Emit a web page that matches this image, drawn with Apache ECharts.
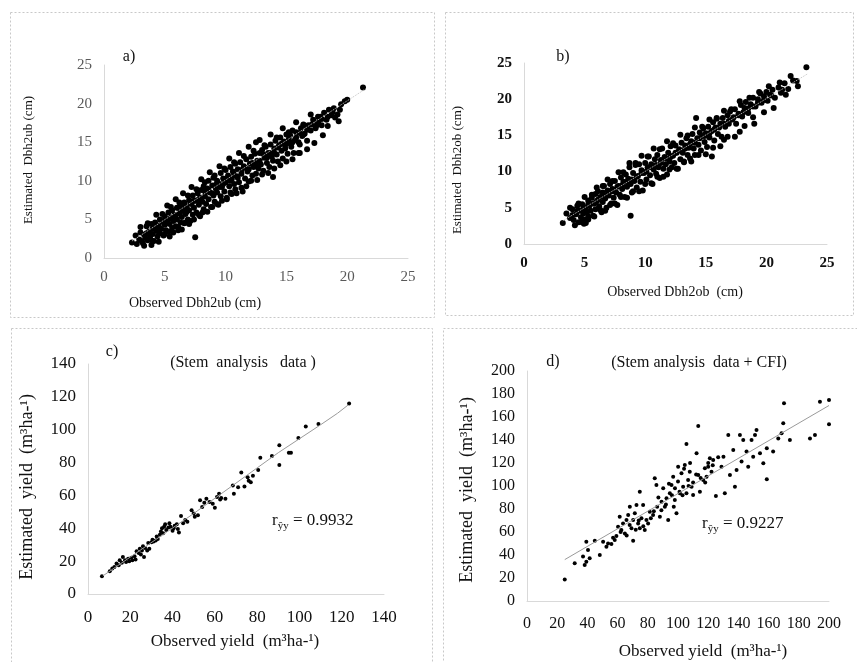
<!DOCTYPE html>
<html><head><meta charset="utf-8">
<script src="https://cdn.jsdelivr.net/npm/echarts@6/dist/echarts.min.js"></script>
<style>html,body{margin:0;padding:0;background:#fff}#c{width:857px;height:662px}</style>
</head><body><div id="c"></div>
<script>
// ---- data ----
const ticksDbh = [0, 5, 10, 15, 20, 25];
const ticksC = [0, 20, 40, 60, 80, 100, 120, 140];
const ticksD = [0, 20, 40, 60, 80, 100, 120, 140, 160, 180, 200];

const aPoints = [
[2.3,2.0],[2.6,2.9],[2.7,1.8],[2.9,2.4],[3.0,3.3],[3.1,2.2],[3.2,1.9],[3.3,3.0],[3.4,2.6],[3.5,4.1],[3.6,2.3],[3.7,3.4],[3.8,2.8],[3.9,4.4],[3.9,1.7],[4.0,3.1],[4.1,3.9],[4.1,2.2],[4.2,4.6],[4.3,3.5],[4.4,2.8],[4.5,4.2],[4.6,5.0],[4.6,3.2],[4.7,3.8],[4.8,4.7],[4.9,2.9],[5.0,4.3],[5.0,5.4],[5.1,3.6],
[5.2,4.9],[5.3,3.4],[5.3,5.9],[5.4,4.4],[5.5,5.2],[5.6,3.9],[5.6,6.2],[5.7,4.8],[5.8,5.6],[5.9,4.1],[6.0,6.5],[6.0,5.0],[6.1,3.6],[6.2,5.8],[6.3,4.6],[6.3,6.9],[6.4,5.3],[6.5,6.1],[6.6,4.5],[6.6,7.2],[6.7,5.7],[6.8,6.6],[6.9,5.0],[7.0,7.5],[7.0,6.2],[7.1,4.8],[7.2,7.0],[7.3,5.6],[7.3,8.1],[7.4,6.5],[7.5,7.4],[7.5,2.7],[7.6,5.9],[7.7,8.4],[7.8,6.9],[7.9,7.8],[7.9,5.4],
[8.0,8.8],[8.1,7.3],[8.2,6.3],[8.2,9.3],[8.3,8.0],[8.4,7.0],[8.5,9.0],[8.6,7.6],[8.6,10.0],[8.7,8.5],[8.8,6.6],[8.9,9.4],[9.0,8.1],[9.0,10.4],[9.1,7.3],[9.2,9.0],[9.3,10.0],[9.3,8.5],[9.4,6.9],[9.5,9.6],[9.6,8.0],[9.6,11.0],[9.7,9.2],[9.8,10.3],[9.9,8.6],[10.0,9.8],[10.0,11.4],[10.1,7.8],[10.2,10.7],[10.3,9.3],[10.4,11.8],[10.4,8.5],[10.5,10.2],[10.6,11.2],[10.7,9.6],[10.8,12.2],[10.8,8.9],[10.9,10.6],
[11.0,11.5],[11.1,9.8],[11.2,12.4],[11.3,10.9],[11.4,8.6],[11.5,11.9],[11.6,10.3],[11.7,12.8],[11.8,11.2],[11.9,9.9],[12.0,12.2],[12.1,13.1],[12.2,10.7],[12.3,11.8],[12.4,13.5],[12.5,15.0],[12.5,10.9],[12.6,12.6],[12.7,11.6],[12.8,13.6],[12.9,12.1],[13.0,14.0],[13.1,11.3],[13.2,13.0],[13.3,14.4],[13.4,12.3],[13.5,13.6],[13.6,11.8],[13.7,14.7],[13.8,13.1],[13.9,10.5],[13.9,12.6],[14.0,14.2],
[14.1,15.2],[14.2,13.4],[14.3,12.5],[14.4,14.6],[14.5,15.6],[14.6,13.9],[14.7,12.9],[14.8,15.1],[14.9,14.2],[15.0,16.0],[15.1,13.5],[15.2,14.9],[15.3,15.9],[15.4,14.4],[15.5,16.5],[15.6,13.6],[15.7,15.3],[15.8,16.3],[16.0,13.6],[16.0,15.0],[16.1,14.7],[16.2,16.8],[16.3,15.8],[16.4,17.3],[16.5,16.1],[16.7,15.2],[16.8,17.2],[17.0,16.5],[17.2,17.9],
[17.4,16.8],[17.6,17.6],[17.8,18.3],[17.9,17.2],[18.1,18.8],[18.3,17.9],[18.4,17.1],[18.5,19.2],[18.7,18.5],[18.9,19.4],[19.0,18.2],[19.2,18.6],[19.3,17.7],[19.5,19.9],[19.8,20.3],[20.0,20.5],[21.3,22.1],
[3.0,4.0],[3.6,4.5],[4.3,5.6],[4.8,5.7],[5.2,6.8],[5.5,6.6],[5.9,7.6],[6.2,7.2],[6.5,8.4],[6.9,8.1],[7.2,9.2],[7.6,8.9],[8.0,10.2],[8.3,9.8],[8.7,11.1],[9.1,10.7],[9.5,11.9],[9.9,11.6],[10.3,12.9],[10.7,12.4],[11.1,13.6],[11.5,13.2],[11.9,14.4],[12.3,13.9],[12.8,15.3],[13.2,14.6],[13.7,16.0],[14.2,15.6],[14.7,16.8],[15.2,16.3],[15.8,17.6],[16.4,17.2],[17.0,18.6],[17.6,18.3],
[3.3,1.6],[4.0,2.2],[4.5,2.1],[5.0,3.1],[5.4,2.8],[5.7,3.3],[6.1,4.0],[6.4,3.7],[6.7,4.6],[7.0,4.4],[7.4,5.0],[7.8,5.6],[8.1,5.9],[8.5,6.0],[8.9,6.6],[9.3,7.0],[9.7,7.4],[10.1,7.6],[10.5,8.3],[10.9,8.4],[11.3,9.1],[11.7,9.3],[12.1,10.0],[12.6,10.1],[13.0,10.8],[13.5,11.0],[14.0,11.6],[14.5,12.0],[15.0,12.5],[15.5,12.8],[16.1,13.6],[16.7,14.1],[17.3,14.9],[18.0,15.9],
[3.5,3.2],[4.0,3.8],[4.4,4.0],[4.9,4.8],[5.2,5.0],[5.6,5.1],[5.9,5.5],[6.2,6.3],[6.5,6.6],[6.8,6.0],[7.1,7.1],[7.4,7.4],[7.7,7.5],[8.0,7.8],[8.3,8.6],[8.6,8.8],[8.9,8.4],[9.2,9.5],[9.5,9.2],[9.8,9.6],[10.1,10.3],[10.4,10.0],[10.7,10.8],[11.0,10.4],[11.3,11.4],[11.6,11.7],[11.9,11.5],[12.2,12.3],[12.5,12.0],[12.8,12.6],[13.1,13.4],[13.4,13.0],[13.7,13.6],[14.0,13.6],[14.3,14.3],[14.6,14.8],[14.9,14.6],[15.2,15.4],[15.5,15.0],[15.8,15.6],[16.1,16.2],[16.4,16.0],[16.7,16.6],[17.1,17.3],[17.5,17.2],[17.9,18.0],[18.4,18.3],[18.8,18.9],[19.4,19.2]
];
const aFit = [[2.3,2.2],[21.5,21.9]];

const bPoints = [
[3.2,2.9],[3.5,4.2],[3.8,3.6],[4.0,4.8],[4.1,3.3],[4.3,4.1],[4.4,5.3],[4.5,3.0],[4.6,4.6],[4.7,3.7],[4.8,5.5],[4.9,4.2],[4.95,2.8],[5.0,3.4],[5.1,5.0],[5.1,2.9],[5.2,4.4],[5.3,6.0],[5.3,3.8],[5.4,5.3],
[5.5,4.6],[5.6,6.4],[5.7,3.9],[5.8,5.6],[5.9,6.9],[5.9,4.8],[6.0,5.9],[6.1,7.3],[6.2,5.2],[6.3,6.5],[6.4,4.4],[6.5,7.1],[6.5,5.8],[6.6,8.0],[6.7,6.3],[6.8,5.0],[6.9,7.4],[7.0,6.7],[7.1,8.3],[7.2,5.6],[7.3,7.6],[7.4,6.4],[7.5,8.7],[7.6,7.1],[7.7,5.4],[7.8,8.0],[7.9,6.8],[8.0,9.2],
[8.1,7.6],[8.2,8.6],[8.3,6.5],[8.4,9.6],[8.5,7.9],[8.6,9.0],[8.7,10.6],[8.8,3.9],[8.8,8.3],[8.9,7.1],[9.0,9.8],[9.1,8.7],[9.2,10.9],[9.3,7.8],[9.4,9.4],[9.5,11.0],[9.6,8.6],[9.7,10.2],[9.8,7.4],[9.9,9.8],[10.0,11.2],[10.1,8.9],[10.2,10.6],[10.3,12.1],[10.4,9.5],[10.5,11.0],[10.6,8.3],[10.7,10.3],[10.8,11.7],[10.9,9.7],
[11.0,12.3],[11.1,10.6],[11.2,9.1],[11.3,11.6],[11.4,13.2],[11.5,10.4],[11.6,12.0],[11.7,11.0],[11.8,9.6],[11.9,12.6],[12.0,11.4],[12.1,13.5],[12.2,10.6],[12.3,12.2],[12.4,11.2],[12.5,13.6],[12.6,12.6],[12.7,10.4],[12.8,13.1],[12.9,11.7],[13.0,14.0],[13.1,12.6],[13.2,11.4],[13.3,13.6],[13.4,14.6],[13.5,12.3],[13.6,13.3],[13.7,11.8],[13.8,14.2],[13.9,15.2],
[14.0,13.2],[14.1,12.3],[14.2,17.4],[14.3,14.6],[14.4,13.7],[14.5,15.4],[14.6,12.9],[14.7,14.9],[14.8,16.0],[14.9,14.1],[15.0,15.3],[15.1,13.4],[15.2,16.2],[15.3,14.7],[15.5,12.1],[15.5,15.6],[15.6,16.8],[15.7,14.3],[15.8,16.1],[15.9,17.3],[16.0,15.2],[16.2,16.6],[16.3,14.8],[16.4,17.4],[16.5,14.4],[16.6,16.2],[16.8,17.8],[16.9,16.6],[17.0,18.3],
[17.2,17.2],[17.4,18.6],[17.5,16.6],[17.7,18.0],[17.8,15.5],[17.9,19.2],[18.0,17.6],[18.2,18.8],[18.3,19.6],[18.5,18.1],[18.7,19.3],[18.9,17.5],[18.9,20.2],[19.1,19.0],[19.3,20.0],[19.5,20.8],[19.6,19.5],[19.8,20.4],[20.0,21.0],[20.1,19.8],[20.3,20.6],[20.5,21.3],[20.7,20.2],[21.0,21.6],[21.2,20.9],[21.5,22.2],[21.8,21.4],[22.2,22.6],[23.3,24.4],
[3.8,5.0],[4.5,5.6],[5.0,6.5],[5.6,6.8],[6.0,7.8],[6.5,8.0],[6.9,8.9],[7.3,8.7],[7.8,9.9],[8.2,9.9],[8.7,11.2],[9.2,11.2],[9.7,12.2],[10.2,12.1],[10.7,13.2],[11.2,13.1],[11.8,14.2],[12.3,13.9],[12.9,15.1],[13.5,15.0],[14.1,16.1],[14.7,16.2],[15.3,17.2],[15.9,17.4],[16.5,18.4],[17.1,18.6],[17.8,19.7],[18.6,20.2],[19.4,21.0],[20.2,21.8],[21.1,22.3],[22.0,23.2],
[4.2,2.6],[4.8,3.0],[5.3,3.4],[5.8,3.8],[6.3,4.7],[6.7,4.6],[7.1,5.4],[7.5,5.6],[8.0,6.5],[8.5,6.4],[9.0,7.3],[9.5,7.3],[10.0,8.3],[10.5,8.4],[11.0,9.3],[11.5,9.3],[12.0,10.3],[12.6,10.4],[13.2,11.3],[13.8,11.4],[14.4,12.3],[15.0,12.4],[15.6,13.3],[16.2,13.5],[16.8,14.8],[17.4,14.8],[18.2,16.3],[19.0,16.6],[19.8,18.2],[20.6,18.8],[21.6,20.6],[22.6,21.8],
[4.0,4.0],[4.4,4.6],[4.9,4.9],[5.3,5.5],[5.7,5.6],[6.1,6.1],[6.5,6.6],[6.9,6.8],[7.3,7.3],[7.7,7.9],[8.1,8.1],[8.5,8.6],[8.9,8.9],[9.3,9.3],[9.7,9.8],[10.1,10.0],[10.5,10.6],[10.9,10.9],[11.3,11.2],[11.7,11.8],[12.1,12.0],[12.5,12.6],[12.9,12.9],[13.3,13.2],[13.7,13.8],[14.1,14.0],[14.5,14.6],[14.9,14.9],[15.3,15.3],[15.7,15.8],[16.1,16.1],[16.5,16.6],[16.9,17.0],[17.3,17.5],[17.7,17.8],[18.1,18.2],[18.5,18.7],[18.9,19.0],[19.3,19.5],[19.8,19.9],[20.4,20.5],[21.3,21.3],[22.5,22.5]
];
const bFit = [[3.2,3.2],[23.4,23.5]];

const cPoints = [
[6.6,10.8],[10.3,13.8],[11.5,15.5],[12.5,16.5],[13.5,18.5],[14.5,17.5],[15,20.5],[16,19],[16.5,22.5],[17.5,20.5],[18,19.5],[19,21.5],[19.5,20],[20.5,22],[21,20.5],[22,23],[22.5,21],[23,26],[24,25],[24.5,27.5],[25,24],[25.5,26.5],[26,29],[26.5,22.5],[27,28],[28,26.5],[28.5,31],[29,27.5],[30,31.5],[30.5,33],[31,32],[32,32.5],[32.5,35],[33,33.5],[34,36],[34.5,38],[35,40],[35.5,37],[36,41],[36.5,42.5],[37,39],[38,40.5],[38.5,43],[39,41],[40,38.5],[40.5,40],[41,41.5],[42,42.5],[42.5,39.5],[43,37.5],[44,47.5],[45,43],[46,45],[47,44],[49,51],[50,49],[50.5,47],[52,48],[53,57],[54,53],[55,55.5],[56,58],[57.5,56],[59,55],[60,52.5],[61,59],[62,61],[62.5,57.5],[63,58.5],[65,58],[68.5,66],[69,61],[71,65],[72.5,74],[74,65.5],[75.5,71],[76,69],[77,68],[78,72],[80.5,75.5],[81.5,83],[87,84],[90.5,78.5],[90.5,90.5],[95,86],[96,86],[99.5,95],[103,102],[109,103.5],[123.5,116]
];
const cFit = [[7,11],[50,49],[90,86],[110,103],[118,110],[123,115]];

const dPoints = [
[25,18.8],[31.6,32.8],[37.1,38.6],[38.2,31.3],[39.3,34.2],[40.4,44.3],[39.3,51.6],[41.5,37.1],[44.9,52.5],[48.2,40],[50.4,51.6],[52.6,47.2],[53.7,50.1],[55.9,49.6],[57,55],[58.1,53],[59.2,56.5],[60.3,64.6],[61.4,73.3],[62,60],[62.5,61.7],[63.6,67.5],[64.8,58.8],[65.9,70.4],[66,57],[67,74.8],[68,66],[68.1,82],[69.2,63.2],[70.3,52.5],[70.3,70.4],[71.4,76.2],[72,62],[72.5,83.5],[73.6,67.5],[74,70],[74.7,95],[74.7,63.2],[75.8,71.9],[76.9,83.5],[77,65],[78,61.7],[79.1,70.4],[80.2,67.5],[81.3,77.7],[82,72],[83.5,74.8],[84,78],[84.6,106.7],[85.7,100.9],[86.2,82],[87,90],[88,73.3],[89,79],[89.1,86.4],[90.2,98],[91.3,82],[92,84],[92.4,89.3],[93.5,70.4],[94,102],[94.6,93.6],[95.7,100.9],[96,92],[96.8,108.1],[97.2,82],[97.9,87.8],[98,98],[99,76.2],[100,104],[100.1,116.8],[101,95],[101.2,93.6],[102.3,111],[103,92],[103.4,99.4],[104,115],[104.5,118.3],[105.6,93.6],[105.6,136.5],[106.7,105.2],[107,100],[107.8,112.5],[108,120],[109,99.4],[110,92.2],[110,103],[112,110],[112.3,128.4],[113.4,152.2],[113.4,109.6],[114.5,95.1],[115,107],[116.7,105.2],[117.8,115.4],[118,103],[118.9,108.1],[120,116.8],[120,120],[121.1,124.1],[122.2,112.5],[123,118],[123.3,122.6],[125.1,91.3],[126.6,124.9],[128.8,116.8],[130.1,125.5],[131,93.6],[133.3,144.3],[134.4,109.6],[136.6,131.3],[137.7,99.4],[138.8,113.9],[141,144.3],[142.1,121.2],[143.2,140],[145.4,129.9],[146.5,116.8],[148.7,140],[149.8,125.5],[151,144.3],[152,148.7],[154.3,128.4],[156.5,119.7],[158.8,105.8],[158.8,132.8],[163,129.9],[166.4,141.4],[168.6,145.8],[169.7,154.5],[170.2,171.9],[174.1,140],[187.4,141.4],[190.7,144.3],[194,173.3],[200,174.8],[200,153.6]
];
const dFit = [[25,36],[200,170]];

// ---- chart ----
const serif = '"Liberation Serif","Times New Roman",serif';
const chart = echarts.init(document.getElementById('c'), null, {renderer: 'canvas'});

const grids = [
  {left: 104, top: 65, width: 304, height: 193},
  {left: 524, top: 63, width: 303, height: 181},
  {left: 88, top: 364, width: 296, height: 230},
  {left: 527, top: 371, width: 302, height: 230}
];
function axis(i, max, interval, labelStyle) {
  return {
    type: 'value', gridIndex: i, min: 0, max: max, interval: interval,
    axisLine: {show: true, lineStyle: {color: '#d9d9d9', width: 1}},
    axisTick: {show: false}, splitLine: {show: false},
    axisLabel: Object.assign({fontFamily: serif, margin: 12}, labelStyle)
  };
}
const labA = {color: '#595959', fontSize: 15};
const labB = {color: '#111', fontSize: 15, fontWeight: 'bold'};
const labC = {color: '#111', fontSize: 17};
const labD = {color: '#111', fontSize: 16};
const labCx = Object.assign({}, labC, {margin: 15});
const labDx = Object.assign({}, labD, {margin: 15});

function scatter(i, data, size) {
  return {type: 'scatter', xAxisIndex: i, yAxisIndex: i, data: data, symbol: 'circle', symbolSize: size,
    itemStyle: {color: '#000', opacity: 1}, silent: true, z: 2, clip: false};
}
function fit(i, data, color, type) {
  return {type: 'line', xAxisIndex: i, yAxisIndex: i, data: data, showSymbol: false, silent: true, z: 3,
    lineStyle: {color: color, width: 1, type: type}};
}
function txt(x, y, text, size, extra) {
  return {type: 'text', x: x, y: y, z: 10, style: Object.assign({text: text, fontFamily: serif, fontSize: size, fill: '#111', align: 'center', verticalAlign: 'middle'}, extra || {})};
}
function vtxt(x, y, text, size, extra) {
  return {type: 'text', x: x, y: y, rotation: Math.PI / 2, z: 10, style: Object.assign({text: text, fontFamily: serif, fontSize: size, fill: '#111', align: 'center', verticalAlign: 'middle'}, extra || {})};
}
function box(x, y, w, h) {
  return {type: 'rect', shape: {x: x + 0.5, y: y + 0.5, width: w, height: h}, z: 0,
    style: {fill: 'none', stroke: '#c8c8c8', lineWidth: 1, lineDash: [2, 2]}};
}
const rRich = {
  a: {fontFamily: serif, fontSize: 17, fill: '#111'},
  s: {fontFamily: serif, fontSize: 11, fill: '#111', padding: [10, 0, 0, 0]}
};

chart.setOption({
  animation: false,
  grid: grids,
  xAxis: [axis(0, 25, 5, labA), axis(1, 25, 5, labB), axis(2, 140, 20, labCx), axis(3, 200, 20, labDx)],
  yAxis: [axis(0, 25, 5, labA), axis(1, 25, 5, labB), axis(2, 140, 20, labC), axis(3, 200, 20, labD)],
  series: [
    scatter(0, aPoints, 6), fit(0, aFit, '#c4c4c4', 'dotted'),
    scatter(1, bPoints, 6), fit(1, bFit, '#c4c4c4', 'dotted'),
    scatter(2, cPoints, 4), fit(2, cFit, '#9a9a9a', 'solid'),
    scatter(3, dPoints, 4), fit(3, dFit, '#9a9a9a', 'solid')
  ],
  graphic: [
    box(10, 12, 424, 305), box(445, 12, 408, 303), box(11, 328, 421, 340), box(443, 328, 420, 340),
    txt(129, 57, 'a)', 16),
    vtxt(29, 160, 'Estimated  Dbh2ub (cm)', 13),
    txt(195, 303, 'Observed Dbh2ub (cm)', 14),
    txt(563, 57, 'b)', 16),
    vtxt(458, 170, 'Estimated  Dbh2ob (cm)', 13),
    txt(675, 292, 'Observed Dbh2ob  (cm)', 14),
    txt(112, 352, 'c)', 16),
    txt(243, 363, '(Stem  analysis   data )', 16),
    vtxt(27, 487, 'Estimated  yield  (m³ha-¹)', 18),
    txt(235, 642, 'Observed yield  (m³ha-¹)', 17),
    {type: 'text', x: 272, y: 521, z: 10, style: {text: '{a|r}{s|ŷy}{a| = 0.9932}', rich: rRich, verticalAlign: 'middle'}},
    txt(553, 362, 'd)', 16),
    txt(699, 363, '(Stem analysis  data + CFI)', 16),
    vtxt(467, 490, 'Estimated  yield  (m³ha-¹)', 18),
    txt(703, 652, 'Observed yield  (m³ha-¹)', 17),
    {type: 'text', x: 702, y: 524, z: 10, style: {text: '{a|r}{s|ŷy}{a| = 0.9227}', rich: rRich, verticalAlign: 'middle'}}
  ]
});
</script></body></html>
